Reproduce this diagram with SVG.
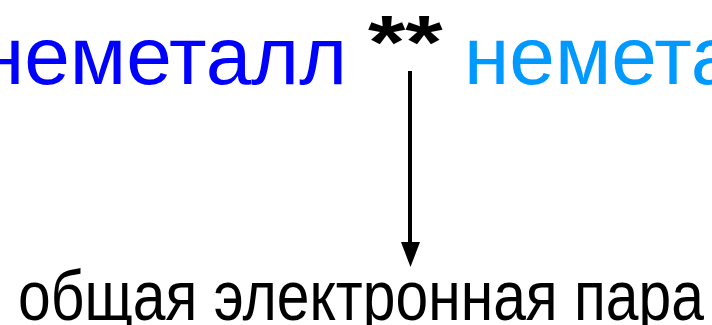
<svg xmlns="http://www.w3.org/2000/svg" width="712" height="325" viewBox="0 0 712 325">
<style>
text{font-family:"Liberation Sans",Arial,sans-serif}
.big{font-size:82px}
</style>
<rect width="712" height="325" fill="#fff"/>
<g id="left"><text class="big" x="347" y="84" text-anchor="end" fill="#0000FF">неметалл</text></g>
<g id="pair" transform="translate(0,12) scale(1,0.8)"><text x="368" y="70" font-size="96" font-weight="bold" fill="#000">**</text></g>
<g id="right"><text class="big" x="464" y="84" fill="#0099FF">неметалл</text></g>
<g id="connectors"><line x1="410" y1="71" x2="410" y2="244" stroke="#000" stroke-width="4"/><polygon points="401,242 420,242 410.5,267" fill="#000"/></g>
<g id="label"><text x="18" y="320" font-size="70" textLength="686" lengthAdjust="spacingAndGlyphs" fill="#000">общая электронная пара</text></g>
</svg>
